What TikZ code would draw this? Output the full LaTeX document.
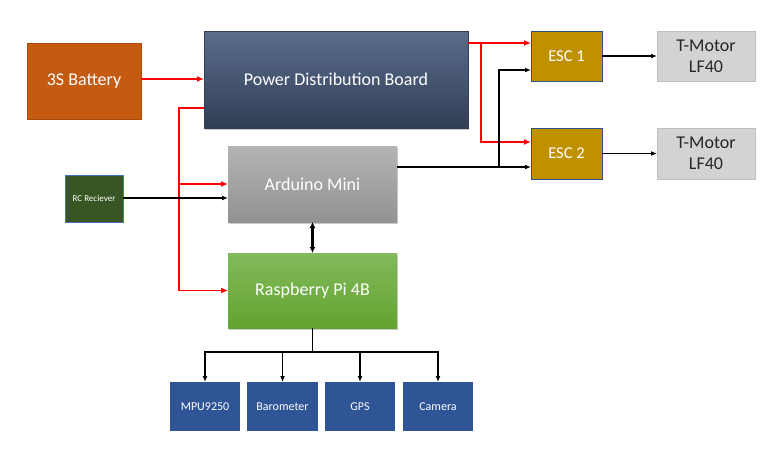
\documentclass[tikz,border=0pt]{standalone}
\usepackage{fontspec}
\setmainfont{Carlito}
\usetikzlibrary{arrows.meta,shadows}
\definecolor{batc}{HTML}{C55A11}
\definecolor{pdbtop}{HTML}{5A6C8C}
\definecolor{pdbbot}{HTML}{323E55}
\definecolor{ardtop}{HTML}{B4B4B4}
\definecolor{ardbot}{HTML}{929292}
\definecolor{rpitop}{HTML}{82BA5C}
\definecolor{rpibot}{HTML}{63A32F}
\definecolor{escc}{HTML}{BF9000}
\definecolor{motc}{HTML}{D3D3D3}
\definecolor{senc}{HTML}{2F5597}
\definecolor{rcc}{HTML}{375623}
\definecolor{edgeblue}{HTML}{4472C4}
\definecolor{wire}{HTML}{FF0000}
\tikzset{
  box/.style={rectangle, inner sep=0pt, outer sep=0pt, text=white, align=center},
  shad/.style={drop shadow={shadow xshift=1.2pt, shadow yshift=-1.5pt, opacity=0.35, fill=black!60}},
  bigtxt/.style={font=\fontsize{18}{21}\selectfont},
  redw/.style={draw=wire, line width=1.9pt},
  redarr/.style={redw, -{Latex[length=7pt,width=6pt]}},
  blkw/.style={draw=black, line width=1.7pt},
  blkarr/.style={blkw, -{Latex[length=6pt,width=5pt]}},
  dblarr/.style={draw=black, line width=2.5pt, {Latex[length=6pt,width=6pt]}-{Latex[length=6pt,width=6pt]}},
}
\begin{document}
\begin{tikzpicture}[x=1pt,y=-1pt]
\useasboundingbox (0,0) rectangle (782,450);
% nodes
\node[box, bigtxt, fill=batc, draw=batc!85!black, line width=0.5pt, minimum width=114pt, minimum height=76pt] (bat) at (84,81) {3S Battery};
\node[box, bigtxt, shad, top color=pdbtop, bottom color=pdbbot, draw=pdbbot, line width=0.4pt, minimum width=264pt, minimum height=97pt] (pdb) at (336,79.5) {Power Distribution Board};
\node[box, bigtxt, shad, top color=ardtop, bottom color=ardbot, minimum width=169pt, minimum height=76pt] (ard) at (312.5,184) {Arduino Mini};
\node[box, bigtxt, shad, top color=rpitop, bottom color=rpibot, minimum width=169pt, minimum height=75pt] (rpi) at (312.5,290.5) {Raspberry Pi 4B};
\node[box, fill=rcc, draw=edgeblue, line width=0.6pt, minimum width=58pt, minimum height=47pt, font=\fontsize{9}{10}\selectfont] (rc) at (94,198.5) {RC Reciever};
\node[box, fill=escc, draw=edgeblue!70!black, line width=0.5pt, minimum width=71pt, minimum height=50pt, font=\fontsize{16.5}{18}\selectfont] (esc1) at (566.5,56) {ESC 1};
\node[box, fill=escc, draw=edgeblue!70!black, line width=0.5pt, minimum width=71pt, minimum height=51pt, font=\fontsize{16.5}{18}\selectfont] (esc2) at (566.5,153.5) {ESC 2};
\node[box, fill=motc, draw=black!25, line width=0.6pt, text=black!85, minimum width=98pt, minimum height=50pt, font=\fontsize{18}{21}\selectfont] (m1) at (706,56) {T-Motor\\LF40};
\node[box, fill=motc, draw=black!25, line width=0.6pt, text=black!85, minimum width=98pt, minimum height=51pt, font=\fontsize{18}{21}\selectfont] (m2) at (706,153.5) {T-Motor\\LF40};
\node[box, fill=senc, minimum width=70pt, minimum height=49pt, font=\fontsize{12}{14}\selectfont] (mpu) at (205,406.5) {MPU9250};
\node[box, fill=senc, minimum width=71pt, minimum height=49pt, font=\fontsize{12}{14}\selectfont] (baro) at (282.5,406.5) {Barometer};
\node[box, fill=senc, minimum width=70pt, minimum height=49pt, font=\fontsize{12}{14}\selectfont] (gps) at (360,406.5) {GPS};
\node[box, fill=senc, minimum width=70pt, minimum height=49pt, font=\fontsize{12}{14}\selectfont] (cam) at (438,406.5) {Camera};
% coordinates
\coordinate (pdbl) at (204,108);
\coordinate (pbus) at (179,108);
\coordinate (pdbr) at (468,43);
\coordinate (pbr) at (481,43);
\coordinate (esc2r) at (531,142);
\coordinate (ardr) at (397,167);
\coordinate (esc2b) at (531,167);
\coordinate (abr) at (499,167);
\coordinate (esc1b) at (531,70);
\coordinate (bus) at (312.5,352);
% connectors
\draw[redarr] (bat.east |- 0,79) -- (pdb.west |- 0,79);
\draw[redarr] (pdbl) -- (pbus) |- (rpi.west);
\draw[redarr] (pbus |- ard.west) -- (ard.west);
\draw[blkarr] (rc.east |- 0,198) -- (ard.west |- 0,198);
\draw[dblarr] (ard.south) -- (rpi.north);
\draw[redarr] (pdbr) -- (pdbr -| esc1.west);
\draw[redarr] (pbr) |- (esc2r);
\draw[blkarr] (ardr) -- (esc2b);
\draw[blkarr] (abr) |- (esc1b);
\draw[blkarr] (esc1.east) -- (m1.west);
\draw[blkarr] (esc2.east) -- (m2.west);
\draw[blkw] (rpi.south) -- (bus);
\draw[blkarr] (bus) -| (mpu.north);
\draw[blkarr] (bus) -| (baro.north);
\draw[blkarr] (bus) -| (gps.north);
\draw[blkarr] (bus) -| (cam.north);
\end{tikzpicture}
\end{document}
